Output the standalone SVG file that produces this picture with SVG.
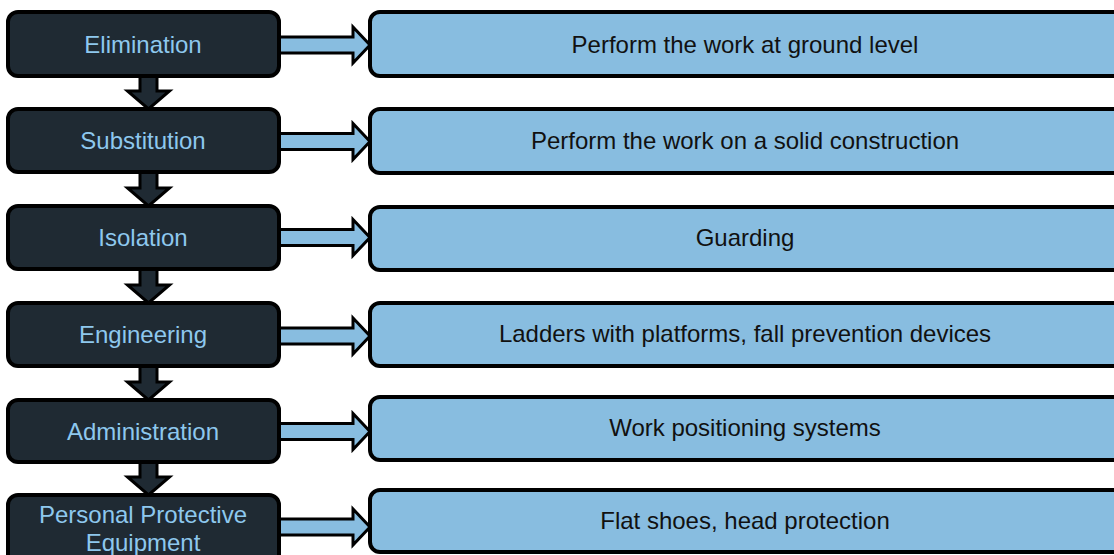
<svg xmlns="http://www.w3.org/2000/svg" width="1114" height="555" viewBox="0 0 1114 555">
<defs>
<style>
.lbox{fill:#1f2a33;stroke:#000;stroke-width:4}
.rbox{fill:#88bde0;stroke:#000;stroke-width:4}
.ltxt{font-family:"Liberation Sans",Arial,sans-serif;font-size:24px;fill:#8ec8ee;text-anchor:middle}
.rtxt{font-family:"Liberation Sans",Arial,sans-serif;font-size:24px;fill:#111;text-anchor:middle}
.rarr{fill:#88bde0;stroke:#000;stroke-width:3;stroke-linejoin:miter}
.darr{fill:#1f2a33;stroke:#000;stroke-width:3;stroke-linejoin:miter}
</style>
</defs>
<rect width="1114" height="555" fill="#fff"/>
<g id="connectors">
<path class="darr" d="M140,76 L157,76 L157,91 L169.5,91 L148.5,109 L127.5,91 L140,91 Z"/>
<path class="darr" d="M140,172 L157,172 L157,188 L169.5,188 L148.5,206 L127.5,188 L140,188 Z"/>
<path class="darr" d="M140,269 L157,269 L157,285 L169.5,285 L148.5,303 L127.5,285 L140,285 Z"/>
<path class="darr" d="M140,366 L157,366 L157,382 L169.5,382 L148.5,400 L127.5,382 L140,382 Z"/>
<path class="darr" d="M140,462 L157,462 L157,477 L169.5,477 L148.5,495 L127.5,477 L140,477 Z"/>
<path class="rarr" d="M279,37 L353,37 L353,27 L370,45 L353,63 L353,53 L279,53 Z"/>
<path class="rarr" d="M279,133.5 L353,133.5 L353,123.5 L370,141.5 L353,159.5 L353,149.5 L279,149.5 Z"/>
<path class="rarr" d="M279,229.5 L353,229.5 L353,219.5 L370,237.5 L353,255.5 L353,245.5 L279,245.5 Z"/>
<path class="rarr" d="M279,328 L353,328 L353,318 L370,336 L353,354 L353,344 L279,344 Z"/>
<path class="rarr" d="M279,423.5 L353,423.5 L353,413.5 L370,431.5 L353,449.5 L353,439.5 L279,439.5 Z"/>
<path class="rarr" d="M279,519 L353,519 L353,509 L370,527 L353,545 L353,535 L279,535 Z"/>
</g>
<g id="n-elimination"><rect class="lbox" x="8" y="12" width="271" height="64" rx="10"/><text class="ltxt" x="143" y="53">Elimination</text></g>
<g id="n-substitution"><rect class="lbox" x="8" y="109" width="271" height="63" rx="10"/><text class="ltxt" x="143" y="149">Substitution</text></g>
<g id="n-isolation"><rect class="lbox" x="8" y="206" width="271" height="63" rx="10"/><text class="ltxt" x="143" y="246">Isolation</text></g>
<g id="n-engineering"><rect class="lbox" x="8" y="303" width="271" height="63" rx="10"/><text class="ltxt" x="143" y="343">Engineering</text></g>
<g id="n-administration"><rect class="lbox" x="8" y="400" width="271" height="62" rx="10"/><text class="ltxt" x="143" y="440">Administration</text></g>
<g id="n-ppe"><rect class="lbox" x="8" y="495" width="271" height="75" rx="10"/><text class="ltxt" x="143" y="523">Personal Protective</text><text class="ltxt" x="143" y="551">Equipment</text></g>
<g id="r-ground"><rect class="rbox" x="370" y="12" width="760" height="64" rx="10"/><text class="rtxt" x="745" y="53">Perform the work at ground level</text></g>
<g id="r-solid"><rect class="rbox" x="370" y="109" width="760" height="64" rx="10"/><text class="rtxt" x="745" y="149">Perform the work on a solid construction</text></g>
<g id="r-guarding"><rect class="rbox" x="370" y="207" width="760" height="63" rx="10"/><text class="rtxt" x="745" y="246">Guarding</text></g>
<g id="r-ladders"><rect class="rbox" x="370" y="303" width="760" height="63" rx="10"/><text class="rtxt" x="745" y="342">Ladders with platforms, fall prevention devices</text></g>
<g id="r-positioning"><rect class="rbox" x="370" y="397" width="760" height="63" rx="10"/><text class="rtxt" x="745" y="436">Work positioning systems</text></g>
<g id="r-flat"><rect class="rbox" x="370" y="490" width="760" height="62" rx="10"/><text class="rtxt" x="745" y="529">Flat shoes, head protection</text></g>
</svg>
